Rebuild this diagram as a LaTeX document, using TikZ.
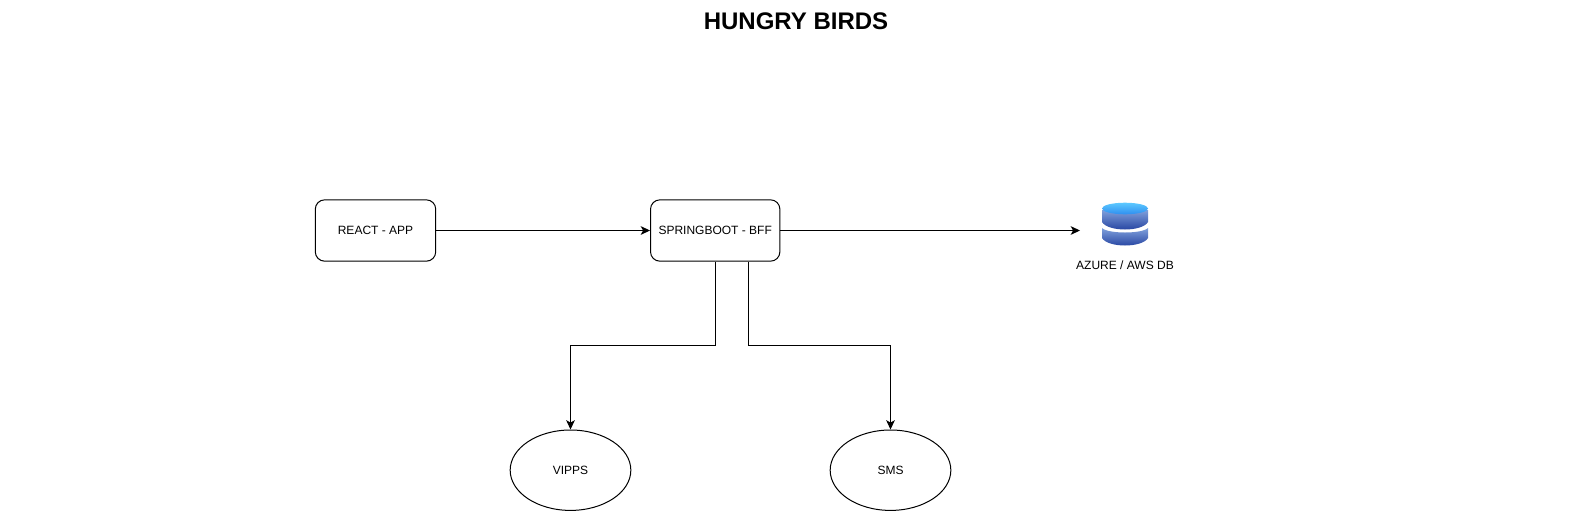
\documentclass[tikz,border=0pt]{standalone}
\usepackage{fontspec}
\setmainfont{Liberation Sans}
\usetikzlibrary{shapes.geometric,arrows.meta}
\definecolor{dbtop}{HTML}{5CC8FF}
\definecolor{dbtopb}{HTML}{2F8FF0}
\definecolor{dbmid}{HTML}{7FA0DC}
\definecolor{dbdark}{HTML}{1E3C9C}
\tikzset{
  x=0.75pt,y=-0.75pt,
  boxnode/.style={draw=black,line width=0.75pt,rounded corners=7pt,minimum height=46pt,inner sep=0pt,font=\fontsize{9pt}{11pt}\selectfont},
  oval/.style={draw=black,line width=0.75pt,ellipse,minimum width=90.5pt,minimum height=60.3pt,inner sep=0pt,font=\fontsize{9pt}{11pt}\selectfont},
  conn/.style={draw=black,line width=0.75pt,-{Stealth[length=7pt,width=6.5pt,inset=1.8pt]}},
  lab/.style={inner sep=0pt,font=\fontsize{9pt}{11pt}\selectfont},
  titlelab/.style={inner sep=0pt,font=\bfseries\fontsize{18pt}{22pt}\selectfont}
}
\begin{document}
\begin{tikzpicture}
\useasboundingbox (0,0) rectangle (1590,511);
\fill[white] (0,0) rectangle (1590,511);
\node[titlelab] (title) at (796,21) {HUNGRY BIRDS};
\node[boxnode,minimum width=90.3pt] (react) at (375.5,230.5) {REACT - APP};
\node[boxnode,minimum width=97pt] (bff) at (715.2,230.5) {SPRINGBOOT - BFF};
\node[oval] (vipps) at (570.5,470.2) {VIPPS};
\node[oval] (sms) at (890.5,470.2) {SMS};
% database
\coordinate (db) at (1125,230.5);
\shade[top color=dbmid,bottom color=dbdark] (1102,228) .. controls (1108,234) and (1142,234) .. (1148,228) -- (1148,238) .. controls (1142,248) and (1108,248) .. (1102,238) -- cycle;
\shade[top color=dbmid,bottom color=dbdark] (1102,210) -- (1148,210) -- (1148,222) .. controls (1142,232) and (1108,232) .. (1102,222) -- cycle;
\shade[top color=dbtop,bottom color=dbtopb] (1125,208.5) ellipse[x radius=23,y radius=5.8];
\node[lab] (dblabel) at (1125,265) {AZURE / AWS DB};
\draw[conn] (react) -- (bff);
\draw[conn] (bff) -- (db -| 1080,0);
\coordinate (c1) at (715.5,345.5);
\coordinate (c2) at (748,345.5);
\draw[conn] (bff.south -| c1) -- (c1) -| (vipps.north);
\draw[conn] (bff.south -| c2) -- (c2) -| (sms.north);
\end{tikzpicture}
\end{document}
